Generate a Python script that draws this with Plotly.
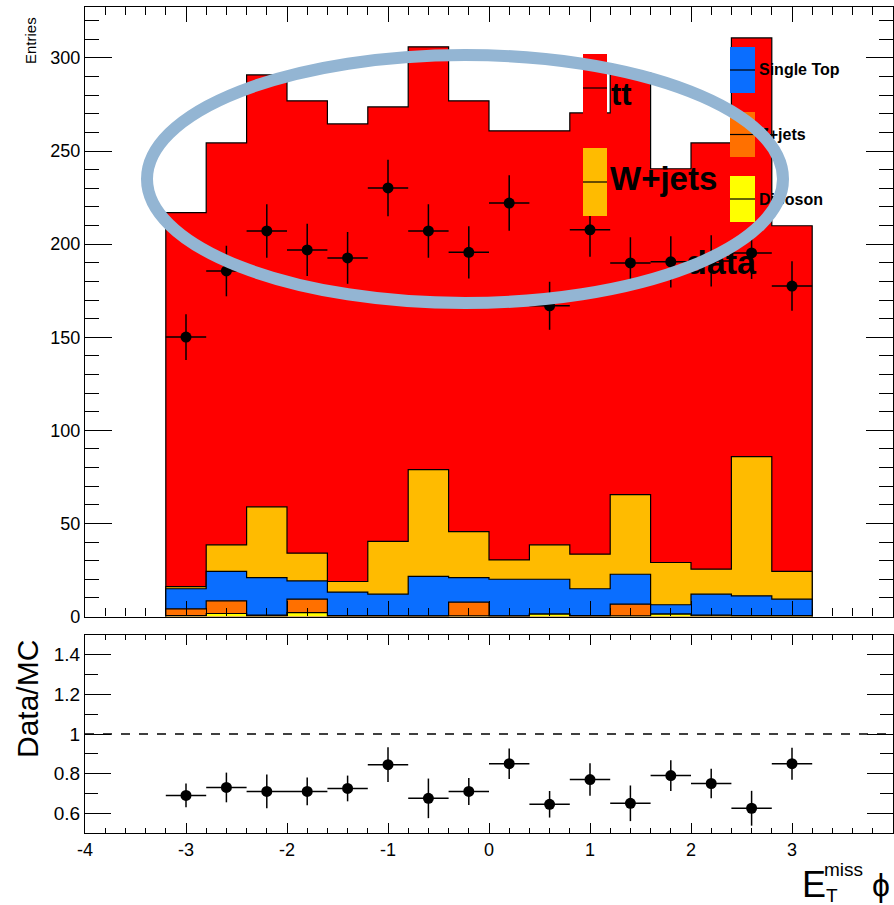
import plotly.graph_objects as go
import numpy as np

# ---------------- data ----------------
bin_edges = [-3.2, -2.8, -2.4, -2.0, -1.6, -1.2, -0.8, -0.4, 0.0, 0.4,
             0.8, 1.2, 1.6, 2.0, 2.4, 2.8, 3.2]
bin_centers = [-3.0, -2.6, -2.2, -1.8, -1.4, -1.0, -0.6, -0.2, 0.2, 0.6,
               1.0, 1.4, 1.8, 2.2, 2.6, 3.0]
bin_halfwidth = [0.2] * 16

ttbar   = [200.8, 215.9, 232.0, 243.0, 245.8, 233.4, 227.1, 231.4,
           230.5, 222.4, 237.0, 226.5, 211.5, 229.0, 224.9, 185.7]
wjets   = [1.2, 14.3, 38.0, 14.9, 5.7, 28.3, 57.4, 24.7,
           10.4, 18.5, 18.6, 42.8, 22.7, 13.4, 74.8, 14.9]
stop    = [10.8, 15.8, 20.2, 9.8, 12.6, 11.5, 21.2, 13.2,
           19.7, 18.7, 14.4, 16.1, 5.0, 11.3, 10.6, 8.8]
zjets   = [3.6, 6.8, 0.4, 7.2, 0.3, 0.3, 0.1, 7.4,
           0.1, 0.0, 0.3, 6.3, 0.0, 0.3, 0.2, 0.2]
diboson = [0.5, 1.6, 0.3, 2.1, 0.2, 0.2, 0.2, 0.3,
           0.2, 1.3, 0.2, 0.3, 1.3, 0.4, 0.3, 0.3]

data     = [150.1, 185.6, 207.1, 196.9, 192.6, 230.2, 207.1, 195.6,
            222.1, 166.9, 207.7, 189.9, 190.5, 191.0, 195.3, 177.5]
data_err = [12.3, 13.6, 14.4, 14.0, 13.9, 15.2, 14.4, 14.0,
            14.9, 12.9, 14.4, 13.8, 13.8, 13.8, 14.0, 13.3]

ratio     = [0.69, 0.73, 0.71, 0.71, 0.725, 0.845, 0.675, 0.71,
             0.85, 0.645, 0.77, 0.65, 0.79, 0.75, 0.625, 0.85]
ratio_err = [0.06, 0.075, 0.085, 0.07, 0.065, 0.088, 0.10, 0.068,
             0.077, 0.067, 0.082, 0.09, 0.078, 0.074, 0.088, 0.081]

main_yticks = [0, 50, 100, 150, 200, 250, 300]
ratio_yticks = [0.6, 0.8, 1.0, 1.2, 1.4]
ratio_yticktext = ["0.6", "0.8", "1", "1.2", "1.4"]
xticks = [-4, -3, -2, -1, 0, 1, 2, 3, 4]

# ---------------- styling ----------------
C_TT = "#ff0000"
C_W = "#ffbb00"
C_ST = "#0a6eff"
C_Z = "#ff7000"
C_DB = "#ffff00"
FONT = "Liberation Sans, Arial, Helvetica, sans-serif"

W, H = 894, 905
L, R, T, B = 85, 893, 7, 833  # plot-area pixel box


def px(X):
    return (X - L) / (R - L)


def py(Y):
    return (B - Y) / (B - T)


def step_xy(values):
    xs = [bin_edges[0], bin_edges[0]] + list(bin_edges[1:-1]) + [bin_edges[-1], bin_edges[-1]]
    ys = [0, values[0]] + list(values[1:]) + [values[-1], 0]
    return xs, ys


components = [diboson, zjets, stop, wjets, ttbar]
colors = [C_DB, C_Z, C_ST, C_W, C_TT]
cum = np.cumsum(np.array(components), axis=0)

fig = go.Figure()

# draw cumulative levels from top to bottom, each filled to zero
for k in range(len(components) - 1, -1, -1):
    xs, ys = step_xy(cum[k])
    fig.add_trace(go.Scatter(
        x=xs, y=ys, mode="lines", line=dict(shape="hv", color="black", width=1.2),
        fill="tozeroy", fillcolor=colors[k], xaxis="x", yaxis="y",
        hoverinfo="skip", showlegend=False))

# data points
fig.add_trace(go.Scatter(
    x=bin_centers, y=data, mode="markers",
    marker=dict(color="black", size=11),
    error_x=dict(type="data", array=bin_halfwidth, color="black", thickness=1.5, width=0),
    error_y=dict(type="data", array=data_err, color="black", thickness=1.5, width=0),
    xaxis="x", yaxis="y", showlegend=False))

# ratio panel
fig.add_trace(go.Scatter(
    x=[xticks[0], xticks[-1]], y=[1, 1], mode="lines",
    line=dict(color="black", width=1.5, dash="dash"),
    xaxis="x2", yaxis="y2", showlegend=False, hoverinfo="skip"))
fig.add_trace(go.Scatter(
    x=bin_centers, y=ratio, mode="markers",
    marker=dict(color="black", size=11),
    error_x=dict(type="data", array=bin_halfwidth, color="black", thickness=1.5, width=0),
    error_y=dict(type="data", array=ratio_err, color="black", thickness=1.5, width=0),
    xaxis="x2", yaxis="y2", showlegend=False))


# legend texts as text traces on the main axes (so the ellipse can sit over them)
def dx(X):
    return -4 + (X - L) / 101.0


def dy(Y):
    return (616.5 - Y) / 1.8617


leg_text = [
    ("tt", 611, 97, 31),
    ("W+jets", 610, 182, 33),
    ("data", 686, 265, 34),
    ("Single Top", 759, 71, 16),
    ("Z+jets", 759, 136, 16),
    ("Diboson", 759, 201, 16),
]
for txt, X, Y, s in leg_text:
    fig.add_trace(go.Scatter(
        x=[dx(X)], y=[dy(Y)], mode="text", text=[f"<b>{txt}</b>"],
        textposition="middle right",
        textfont=dict(family=FONT, size=s, color="black"),
        xaxis="x", yaxis="y", showlegend=False, hoverinfo="skip"))

shapes = []
# legend boxes
boxes = [
    (583, 607, 54, 122, C_TT),
    (583, 607, 148, 216, C_W),
    (730, 755, 47, 93, C_ST),
    (730, 755, 112, 157, C_Z),
    (730, 755, 176, 222, C_DB),
]
for x0, x1, y0, y1, c in boxes:
    shapes.append(dict(type="rect", xref="paper", yref="paper",
                       x0=px(x0), x1=px(x1), y0=py(y1), y1=py(y0),
                       fillcolor=c, line=dict(width=0), layer="above"))
    ym = (y0 + y1) / 2
    shapes.append(dict(type="line", xref="paper", yref="paper",
                       x0=px(x0), x1=px(x1), y0=py(ym), y1=py(ym),
                       line=dict(color="black", width=1.2), layer="above"))

# highlighting ellipse
cx, cy, rx, ry = 465, 179, 318, 124
shapes.append(dict(type="circle", xref="paper", yref="paper",
                   x0=px(cx - rx), x1=px(cx + rx), y0=py(cy + ry), y1=py(cy - ry),
                   line=dict(color="rgb(147,181,211)", width=12), layer="above"))

annotations = [
    dict(text="Entries", xref="paper", yref="paper", x=px(31), y=py(41),
         textangle=-90, showarrow=False, font=dict(family=FONT, size=15, color="black"),
         xanchor="center", yanchor="middle"),
    dict(text="Data/MC", xref="paper", yref="paper", x=px(27), y=py(699),
         textangle=-90, showarrow=False, font=dict(family=FONT, size=30, color="black"),
         xanchor="center", yanchor="middle"),
    dict(text="E", xref="paper", yref="paper", x=px(800), y=py(884),
         showarrow=False, font=dict(family=FONT, size=36, color="black"),
         xanchor="left", yanchor="middle"),
    dict(text="miss", xref="paper", yref="paper", x=px(822), y=py(869),
         showarrow=False, font=dict(family=FONT, size=19, color="black"),
         xanchor="left", yanchor="middle"),
    dict(text="T", xref="paper", yref="paper", x=px(824), y=py(895),
         showarrow=False, font=dict(family=FONT, size=19, color="black"),
         xanchor="left", yanchor="middle"),
    dict(text="ϕ", xref="paper", yref="paper", x=px(870), y=py(885),
         showarrow=False, font=dict(family=FONT, size=32, color="black"),
         xanchor="left", yanchor="middle"),
]

axis_common = dict(showline=True, linecolor="black", linewidth=1.2, mirror="allticks",
                   ticks="inside", tickcolor="black", showgrid=False, zeroline=False,
                   automargin=False)

fig.update_layout(
    width=W, height=H,
    margin=dict(l=L, r=W - R, t=T, b=H - B, pad=0),
    paper_bgcolor="white", plot_bgcolor="white",
    font=dict(family=FONT, color="black"),
    showlegend=False,
    xaxis=dict(domain=[0, 1], range=[-4, 4], anchor="y", showticklabels=False,
               tickvals=xticks, ticklen=15, tickwidth=1.2,
               minor=dict(dtick=0.2, tick0=0, ticklen=8, ticks="inside", tickcolor="black"),
               **axis_common),
    yaxis=dict(domain=[py(616.5), 1], range=[0, (616.5 - T) / 1.8617], anchor="x",
               tickvals=main_yticks, ticklen=27, tickwidth=1.2,
               tickfont=dict(family=FONT, size=18, color="black"),
               minor=dict(dtick=10, tick0=0, ticklen=14, ticks="inside", tickcolor="black"),
               **axis_common),
    xaxis2=dict(domain=[0, 1], range=[-4, 4], anchor="y2",
                tickvals=xticks, ticktext=[str(v) for v in xticks], ticklen=10, tickwidth=1.2,
                tickfont=dict(family=FONT, size=18, color="black"),
                minor=dict(dtick=0.2, tick0=0, ticklen=5, ticks="inside", tickcolor="black"),
                **axis_common),
    yaxis2=dict(domain=[0, py(635)], range=[0.5, 1.5], anchor="x2",
                tickvals=ratio_yticks, ticktext=ratio_yticktext, ticklen=26, tickwidth=1.2,
                tickfont=dict(family=FONT, size=19, color="black"),
                minor=dict(dtick=0.1, tick0=0.5, ticklen=13, ticks="inside", tickcolor="black"),
                **axis_common),
    shapes=shapes,
    annotations=annotations,
)

fig.write_html("out.html",
               config={"displayModeBar": False},
               post_script="document.body.style.margin='0';document.body.style.padding='0';")
